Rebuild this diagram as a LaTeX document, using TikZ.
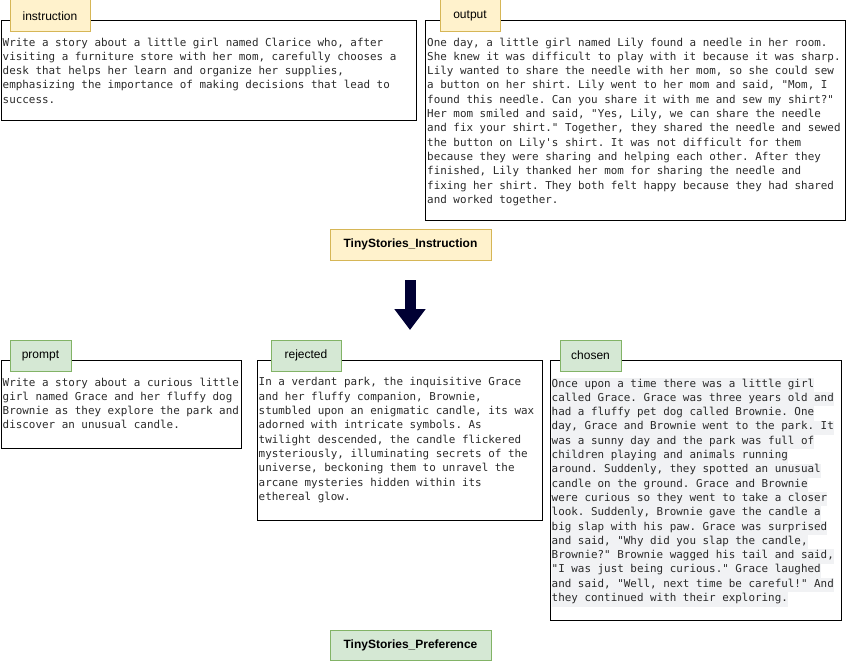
\documentclass[tikz,border=0pt]{standalone}
\usepackage{fontspec}
\setmainfont{Liberation Sans}
\setmonofont{DejaVu Sans Mono}
\usetikzlibrary{arrows.meta, positioning}

\definecolor{tabYellowFill}{HTML}{FFF2CC}
\definecolor{tabYellowDraw}{HTML}{D6B656}
\definecolor{tabGreenFill}{HTML}{D5E8D4}
\definecolor{tabGreenDraw}{HTML}{82B366}
\definecolor{hlGray}{HTML}{F1F2F4}
\definecolor{arrowNavy}{HTML}{000033}
\definecolor{storyText}{HTML}{2A2A2A}

% line strut, and a highlighted line for the chosen answer
\newcommand{\ls}{\rule[-5pt]{0pt}{14.3pt}}
\newcommand{\hl}[1]{{\setlength{\fboxsep}{0pt}\colorbox{hlGray}{\ls#1}}}

\begin{document}
\begin{tikzpicture}[x=1pt, y=-1pt]
    \tikzstyle{storybox} = [draw=black, line width=1pt, rectangle, anchor=north west, inner sep=0pt]
    \tikzstyle{story} = [anchor=north west, inner sep=0pt, align=left, text=storyText, font=\ttfamily\fontsize{10.9}{14.3}\selectfont, execute at begin node=\ls]
    \tikzstyle{tabY} = [draw=tabYellowDraw, fill=tabYellowFill, line width=1pt, minimum height=32pt, font=\fontsize{12}{14}\selectfont]
    \tikzstyle{tabG} = [draw=tabGreenDraw, fill=tabGreenFill, line width=1pt, minimum height=31pt, font=\fontsize{12}{14}\selectfont]
    \tikzstyle{dataset} = [line width=1pt, minimum width=161pt, minimum height=31pt, font=\bfseries\fontsize{12}{14}\selectfont]

    \useasboundingbox (0,0) rectangle (846,661);

    % instruction dataset
    \node (instrBox) [storybox, minimum width=415pt, minimum height=100pt] at (0.5,20) {};
    \node (instrText) [story, below right=17.5pt and 2pt of instrBox.north west]
        {Write a story about a little girl named Clarice who, after\\
         visiting a furniture store with her mom, carefully chooses a\\
         desk that helps her learn and organize her supplies,\\
         emphasizing the importance of making decisions that lead to\\
         success.};
    \node (instrTab) [tabY, minimum width=80pt] at (50,16) {instruction};

    \node (outBox) [storybox, minimum width=420pt, minimum height=200pt] at (425,20) {};
    \node (outText) [story, below right=17.5pt and 2pt of outBox.north west]
        {One day, a little girl named Lily found a needle in her room.\\
         She knew it was difficult to play with it because it was sharp.\\
         Lily wanted to share the needle with her mom, so she could sew\\
         a button on her shirt. Lily went to her mom and said, "Mom, I\\
         found this needle. Can you share it with me and sew my shirt?"\\
         Her mom smiled and said, "Yes, Lily, we can share the needle\\
         and fix your shirt." Together, they shared the needle and sewed\\
         the button on Lily's shirt. It was not difficult for them\\
         because they were sharing and helping each other. After they\\
         finished, Lily thanked her mom for sharing the needle and\\
         fixing her shirt. They both felt happy because they had shared\\
         and worked together.};
    \node (outTab) [tabY, minimum width=60pt] at (470,16) {output};

    \node (instrSet) [dataset, draw=tabYellowDraw, fill=tabYellowFill] at (410.5,244.5) {TinyStories\_Instruction};

    % big arrow down
    \coordinate (arrTop) at (410,280);
    \coordinate (arrTip) at (410,330);
    \draw [arrowNavy, line width=11pt, -{Triangle[width=30pt, length=21pt]}] (arrTop) -- (arrTip);

    % preference dataset
    \node (promptBox) [storybox, minimum width=240pt, minimum height=88pt] at (0.5,360) {};
    \node (promptText) [story, below right=17.5pt and 2pt of promptBox.north west]
        {Write a story about a curious little\\
         girl named Grace and her fluffy dog\\
         Brownie as they explore the park and\\
         discover an unusual candle.};
    \node (promptTab) [tabG, minimum width=61pt] at (40.5,355.5) {prompt};

    \node (rejBox) [storybox, minimum width=285.5pt, minimum height=160pt] at (256.5,360) {};
    \node (rejText) [story, below right=17.5pt and 2pt of rejBox.north west]
        {In a verdant park, the inquisitive Grace\\
         and her fluffy companion, Brownie,\\
         stumbled upon an enigmatic candle, its wax\\
         adorned with intricate symbols. As\\
         twilight descended, the candle flickered\\
         mysteriously, illuminating secrets of the\\
         universe, beckoning them to unravel the\\
         arcane mysteries hidden within its\\
         ethereal glow.};
    \node (rejTab) [tabG, minimum width=70pt] at (306,355.5) {rejected};

    \node (choBox) [storybox, minimum width=291pt, minimum height=260pt] at (550,360) {};
    \node (choText) [story, below right=17.5pt and 1.5pt of choBox.north west]
        {\hl{Once upon a time there was a little girl}\\
         \hl{called Grace. Grace was three years old and}\\
         \hl{had a fluffy pet dog called Brownie. One}\\
         \hl{day, Grace and Brownie went to the park. It}\\
         \hl{was a sunny day and the park was full of}\\
         \hl{children playing and animals running}\\
         \hl{around. Suddenly, they spotted an unusual}\\
         \hl{candle on the ground. Grace and Brownie}\\
         \hl{were curious so they went to take a closer}\\
         \hl{look. Suddenly, Brownie gave the candle a}\\
         \hl{big slap with his paw. Grace was surprised}\\
         \hl{and said, "Why did you slap the candle,}\\
         \hl{Brownie?" Brownie wagged his tail and said,}\\
         \hl{"I was just being curious." Grace laughed}\\
         \hl{and said, "Well, next time be careful!" And}\\
         \hl{they continued with their exploring.}};
    \node (choTab) [tabG, minimum width=61pt] at (590.5,355.5) {chosen};

    \node (prefSet) [dataset, draw=tabGreenDraw, fill=tabGreenFill, minimum height=30pt] at (410.5,645) {TinyStories\_Preference};
\end{tikzpicture}
\end{document}
